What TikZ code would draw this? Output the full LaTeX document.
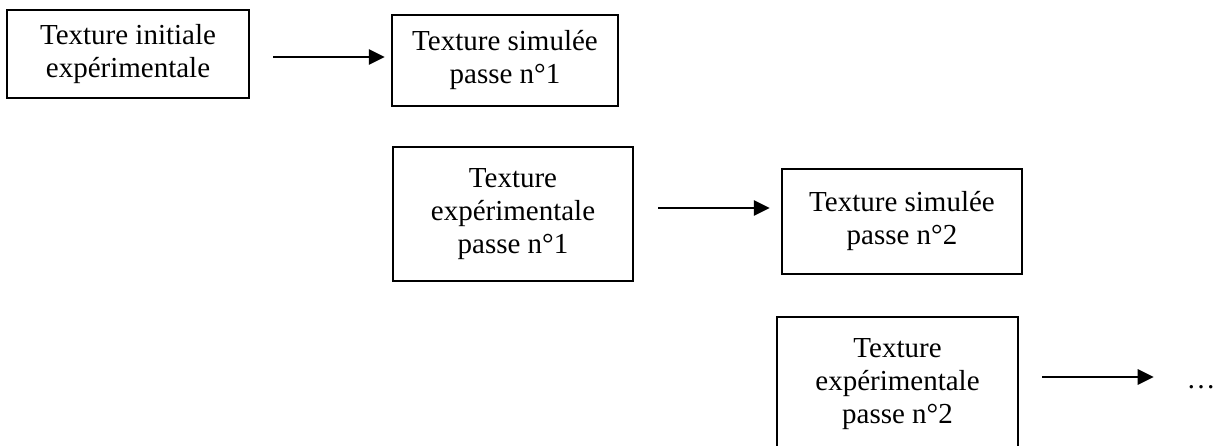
\documentclass[tikz,border=0pt]{standalone}
\usepackage{fontspec}
\setmainfont{Liberation Serif}
\usetikzlibrary{arrows.meta}
\tikzset{
  box/.style={draw, line width=2.2pt, align=center, inner sep=0pt,
    font=\fontsize{29}{33}\selectfont},
  arr/.style={line width=2.8pt, -{Triangle[length=16pt,width=15pt]}},
  lbl/.style={inner sep=0pt, font=\fontsize{29}{33}\selectfont}
}
\begin{document}
\begin{tikzpicture}[x=1pt,y=-1pt]
\useasboundingbox (0,0) rectangle (1222,446);
\clip (0,0) rectangle (1222,446);
\node[box, minimum width=242pt, minimum height=88pt] (b1) at (128,54) {Texture initiale\\expérimentale};
\node[box, minimum width=226pt, minimum height=91pt] (b2) at (505,60.5) {Texture simulée\\passe n°1};
\node[box, minimum width=240pt, minimum height=134pt] (b3) at (513,214) {Texture\\expérimentale\\passe n°1};
\node[box, minimum width=240pt, minimum height=105pt] (b4) at (902,221.5) {Texture simulée\\passe n°2};
\node[box, minimum width=241pt, minimum height=134pt] (b5) at (897.5,384) {Texture\\expérimentale\\passe n°2};
\node[lbl, anchor=base] (d) at (1201,388) {\ldots};
\draw[arr, shorten <=23pt, shorten >=6pt] ([yshift=-3pt]b1.east) -- ([yshift=-3pt]b1.east -| b2.west);
\draw[arr, shorten <=24pt, shorten >=11pt] ([yshift=6pt]b3.east) -- ([yshift=6pt]b3.east -| b4.west);
\draw[arr, shorten <=23pt, shorten >=62pt] ([yshift=7pt]b5.east) -- ([yshift=7pt]b5.east -| d.east);
\end{tikzpicture}
\end{document}
